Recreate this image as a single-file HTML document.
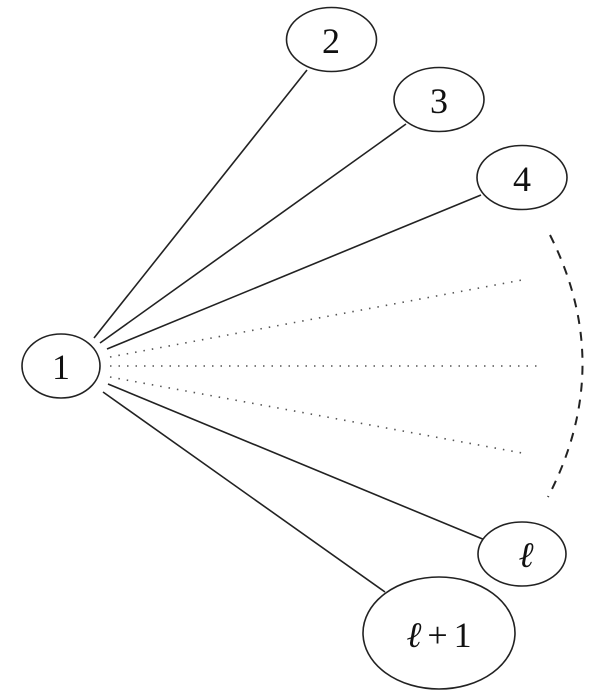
<!DOCTYPE html>
<html><head><style>body{margin:0;background:#fff}svg{display:block}</style></head>
<body>
<svg width="600" height="691" viewBox="0 0 600 691" xmlns="http://www.w3.org/2000/svg">
<g stroke="#222" stroke-width="1.6" fill="none">
<line x1="94" y1="338" x2="307" y2="70"/>
<line x1="100" y1="343" x2="406" y2="124"/>
<line x1="107" y1="349" x2="481" y2="195"/>
<line x1="108" y1="384" x2="485" y2="540"/>
<line x1="103" y1="392" x2="385" y2="592"/>
</g>
<g stroke="#555" stroke-width="1.6" stroke-dasharray="1.5 7" fill="none">
<line x1="110" y1="357" x2="522" y2="280"/>
<line x1="110" y1="366" x2="540" y2="366"/>
<line x1="110" y1="377" x2="522" y2="453"/>
</g>
<path d="M550 235 Q616 366 548 497" stroke="#222" stroke-width="2" stroke-dasharray="9 8" fill="none"/>
<g stroke="#222" stroke-width="1.6" fill="#fff">
<ellipse cx="61" cy="366" rx="39" ry="32"/>
<ellipse cx="331.5" cy="39.5" rx="45" ry="32"/>
<ellipse cx="439" cy="99.5" rx="45" ry="32"/>
<ellipse cx="522" cy="177.5" rx="45" ry="32"/>
<ellipse cx="522" cy="554" rx="44" ry="32"/>
<ellipse cx="439" cy="633" rx="76" ry="56"/>
</g>
<g font-family="Liberation Serif, serif" font-size="36" fill="#111" text-anchor="middle">
<text x="61" y="379">1</text>
<text x="331" y="53">2</text>
<text x="439" y="113">3</text>
<text x="522" y="191">4</text>
<text x="526" y="567" font-style="italic">ℓ</text>
<text x="439" y="647"><tspan font-style="italic">ℓ</tspan><tspan dx="6">+</tspan><tspan dx="6">1</tspan></text>
</g>
</svg>
</body></html>
